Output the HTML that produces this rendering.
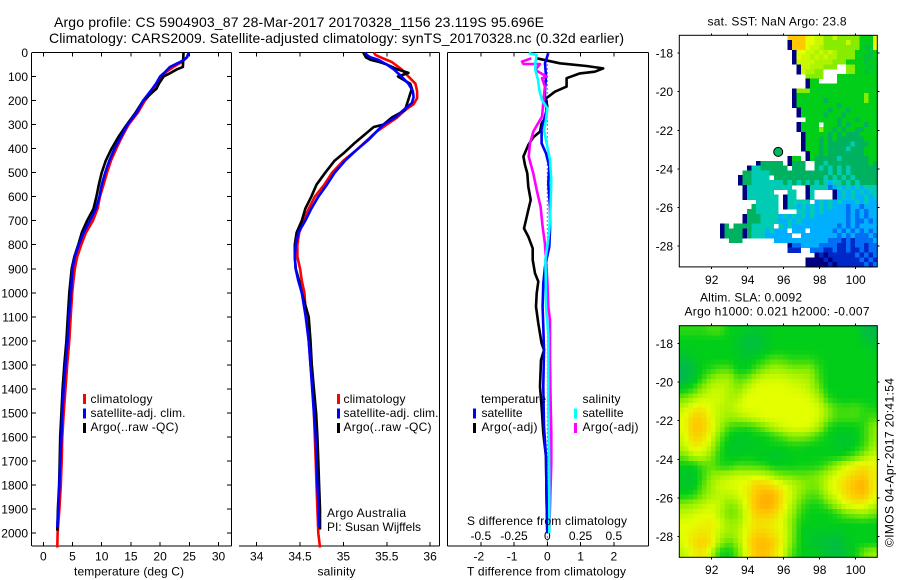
<!DOCTYPE html>
<html>
<head>
<meta charset="utf-8">
<title>Argo profile 5904903_87</title>
<style>
html,body{margin:0;padding:0;background:#fff;}
svg{display:block;font-family:"Liberation Sans",sans-serif;font-size:12px;fill:#000;}
text{fill:#000;}
</style>
</head>
<body>
<svg id="chart" xmlns="http://www.w3.org/2000/svg" width="900" height="580" viewBox="0 0 900 580">
<rect x="0" y="0" width="900" height="580" fill="#ffffff"/>
<text x="54" y="27" font-size="14" textLength="490" lengthAdjust="spacing">Argo profile: CS 5904903_87 28-Mar-2017 20170328_1156 23.119S 95.696E</text>
<text x="49" y="43" font-size="14" textLength="575" lengthAdjust="spacing">Climatology: CARS2009. Satellite-adjusted climatology: synTS_20170328.nc (0.32d earlier)</text>

<g id="p1"></g>
<g id="p2"></g>
<g id="p3"></g>
<g id="m1"></g>
<g id="m2"></g>

<text x="74" y="575.5" textLength="110" lengthAdjust="spacing">temperature (deg C)</text>
<text x="317.5" y="575.5" textLength="38" lengthAdjust="spacing">salinity</text>
<text x="467" y="575.5" textLength="159" lengthAdjust="spacing">T difference from climatology</text>
<text x="467" y="525" textLength="160" lengthAdjust="spacing">S difference from climatology</text>

<g>
<rect x="83" y="394" width="3" height="10" fill="#ff0000"/>
<text x="90.5" y="403" textLength="62" lengthAdjust="spacing">climatology</text>
<rect x="83" y="408.5" width="3" height="10" fill="#0000ff"/>
<text x="90.5" y="417" textLength="95" lengthAdjust="spacing">satellite-adj. clim.</text>
<rect x="83" y="423" width="3" height="10" fill="#000000"/>
<text x="90.5" y="431" textLength="88" lengthAdjust="spacing">Argo(..raw -QC)</text>
</g>
<g>
<rect x="337" y="394" width="3" height="10" fill="#ff0000"/>
<text x="343.5" y="403" textLength="62" lengthAdjust="spacing">climatology</text>
<rect x="337" y="408.5" width="3" height="10" fill="#0000ff"/>
<text x="343.5" y="417" textLength="95" lengthAdjust="spacing">satellite-adj. clim.</text>
<rect x="337" y="423" width="3" height="10" fill="#000000"/>
<text x="343.5" y="431" textLength="88" lengthAdjust="spacing">Argo(..raw -QC)</text>
</g>
<text x="327" y="517" textLength="79" lengthAdjust="spacing">Argo Australia</text>
<text x="327" y="531" textLength="94" lengthAdjust="spacing">PI: Susan Wijffels</text>

<g>
<text x="481" y="403" textLength="65" lengthAdjust="spacing">temperature</text>
<rect x="473" y="408.5" width="3" height="10" fill="#0000ff"/>
<text x="481.5" y="417" textLength="41" lengthAdjust="spacing">satellite</text>
<rect x="473" y="423" width="3" height="10" fill="#000000"/>
<text x="481.5" y="431" textLength="56" lengthAdjust="spacing">Argo(-adj)</text>
<text x="582.5" y="403" textLength="38" lengthAdjust="spacing">salinity</text>
<rect x="574" y="408.5" width="3" height="10" fill="#00ffff"/>
<text x="582.5" y="417" textLength="41" lengthAdjust="spacing">satellite</text>
<rect x="574" y="423" width="3" height="10" fill="#ff00ff"/>
<text x="582.5" y="431" textLength="56" lengthAdjust="spacing">Argo(-adj)</text>
</g>

<text x="707.5" y="25.5" textLength="139" lengthAdjust="spacing">sat. SST: NaN  Argo: 23.8</text>
<text x="700" y="301.5" textLength="102" lengthAdjust="spacing">Altim. SLA: 0.0092</text>
<text x="684.5" y="315.5" textLength="185" lengthAdjust="spacing">Argo h1000: 0.021 h2000: -0.007</text>
<text transform="translate(893.5,547) rotate(-90)" x="0" y="0" textLength="169" lengthAdjust="spacing">©IMOS 04-Apr-2017 20:41:54</text>
</svg>

<script>
// ---- depth ticks / axis tick values ----
var depthTicks = [0,100,200,300,400,500,600,700,800,900,1000,1100,1200,1300,1400,1500,1600,1700,1800,1900,2000];
var tempTicks = [0,5,10,15,20,25,30];
var salTicks = [34,34.5,35,35.5,36];
var salTickLabels = ['34','34.5','35','35.5','36'];
var diffTTicks = [-2,-1,0,1,2];
var diffSTicks = [-0.5,-0.25,0,0.25,0.5];
var diffSLabels = ['-0.5','-0.25','0','0.25','0.5'];
var lonTicks = [92,94,96,98,100];
var latTicks = [-18,-20,-22,-24,-26,-28];

// ---- temperature profiles ----
var climTempDepth = [0,20,40,60,80,100,150,200,250,300,350,400,450,500,550,600,650,700,750,800,850,900,950,1000,1100,1200,1300,1400,1500,1600,1700,1800,1900,2000,2060];
var climTemp = [24.9,24.6,23.7,22.3,21.1,20.3,19.1,17.4,16.2,14.6,13.5,12.5,11.6,10.9,10.3,9.7,9.3,8.5,7.3,6.5,5.8,5.4,5.15,4.95,4.7,4.45,4.1,3.8,3.5,3.25,3.15,3,2.75,2.45,2.4];
var satTempDepth = [0,20,30,40,60,80,100,130,150,200,250,300,350,400,450,500,550,600,650,700,750,800,850,900,950,1000,1100,1200,1300,1400,1500,1600,1700,1800,1900,1975];
var satTemp = [24.9,24.6,24.1,23.4,21.7,20.9,20,19.3,18.7,17.1,16,14.4,13.3,12.2,11.3,10.6,10,9.6,9,8,6.9,6.1,5.4,5,4.86,4.75,4.4,4.17,3.8,3.5,3.25,3.1,2.9,2.75,2.57,2.4];
var argoTempDepth = [0,60,70,90,100,130,150,200,250,300,350,400,450,500,550,600,650,700,750,800,850,900,1000,1100,1200,1300,1400,1500,1600,1700,1800,1900,1990];
var argoTemp = [24,23.9,22.9,21.4,20.6,19.8,19.4,17.1,15.8,14.3,12.9,11.7,10.7,10,9.5,9.1,8.6,7.5,6.6,6,5.3,4.86,4.46,4.2,3.95,3.6,3.3,3.1,2.9,2.8,2.7,2.5,2.4];

// ---- salinity profiles ----
var climSalDepth = [0,10,25,40,70,100,130,160,190,215,240,270,300,330,360,400,450,500,550,600,650,700,750,800,850,900,950,1000,1100,1200,1300,1400,1500,1600,1700,1800,1900,2000,2060];
var climSal = [35.35,35.37,35.46,35.56,35.67,35.75,35.83,35.85,35.85,35.81,35.71,35.62,35.5,35.38,35.29,35.17,35,34.87,34.78,34.67,34.6,34.54,34.49,34.47,34.47,34.5,34.52,34.55,34.57,34.6,34.62,34.65,34.66,34.67,34.68,34.69,34.7,34.71,34.73];
var satSalDepth = [0,10,20,30,50,70,100,130,160,185,210,240,270,300,330,360,400,450,500,550,600,650,700,750,800,850,900,950,1000,1100,1200,1300,1400,1500,1600,1700,1800,1900,1975];
var satSal = [35.25,35.27,35.31,35.4,35.5,35.58,35.67,35.75,35.8,35.81,35.79,35.69,35.6,35.46,35.38,35.3,35.17,35.02,34.9,34.81,34.71,34.63,34.56,34.48,34.45,34.44,34.45,34.48,34.52,34.565,34.6,34.62,34.64,34.66,34.68,34.69,34.7,34.715,34.72];
var argoSalDepth = [0,20,30,40,50,70,85,100,130,150,240,270,300,310,340,380,420,450,500,550,600,650,700,750,800,850,900,950,1000,1100,1200,1300,1400,1500,1600,1700,1800,1900,1985];
var argoSal = [35.23,35.26,35.31,35.42,35.5,35.62,35.75,35.63,35.77,35.79,35.71,35.56,35.46,35.35,35.25,35.12,35,34.9,34.79,34.69,34.63,34.56,34.52,34.46,34.44,34.44,34.45,34.49,34.52,34.6,34.62,34.635,34.66,34.685,34.7,34.71,34.72,34.73,34.73];

// ---- difference profiles ----
var diffArgoTDepth = [24,45,56,66,80,87,107,142,163,191,225,267,295,329,353,385,433,468,503,558,614,655,697,732,766,815,863,919,953,1002,1058,1127,1210,1238,1280,1390,1474,1585,1682,1862,2000];
var diffArgoT = [-0.32,0.38,1.18,1.68,1.43,0.98,0.58,0.58,0.23,-0.04,0,-0.04,-0.17,-0.22,-0.42,-0.57,-0.72,-0.67,-0.6,-0.57,-0.5,-0.57,-0.64,-0.7,-0.57,-0.44,-0.44,-0.37,-0.27,-0.32,-0.34,-0.27,-0.17,-0.1,-0.19,-0.22,-0.17,-0.12,-0.04,-0.02,0];
var diffSatTDepth = [3,45,100,156,198,239,281,322,378,420,475,545,642,739,808,891,961,1058,1141,1238,1390,1557,1682,1862,2000];
var diffSatT = [0.03,-0.07,-0.04,-0.07,-0.07,-0.02,-0.1,-0.17,-0.17,-0.04,0.06,0.03,0.08,0.08,0.06,-0.07,-0.12,-0.14,-0.12,-0.1,-0.12,-0.1,-0.04,-0.02,0];
var diffArgoSDepth = [24,38,48,48,73,100,107,142,177,267,295,329,378,433,503,572,642,725,794,863,946,1058,1113,1280,1446,1585,1710,1985];
var diffArgoS = [-0.12,-0.19,-0.18,-0.055,-0.09,-0.005,-0.04,-0.018,-0.025,-0.04,-0.07,-0.105,-0.13,-0.14,-0.105,-0.08,-0.05,-0.035,-0.018,-0.01,0,0.0075,0.02,0.02,0.025,0.03,0.03,0.015];
var diffSatSDepth = [3,10,45,73,114,156,198,232,281,322,392,447,531,642,739,808,863,919,1058,1169,1446,1682,1862,2000];
var diffSatS = [-0.14,-0.08,-0.09,-0.09,-0.07,-0.06,-0.04,0,-0.01,-0.025,0,0.02,0.03,0.025,0.015,0,-0.015,-0.012,-0.01,0.0075,0.0075,0.0125,0.015,0.015];

// ---- map values: colour-scale level per grid cell, _ = no data ----
var _ = null;
var argoLon = 95.696;
var argoLat = -23.119;
var sstLevels = [
[_,_,_,_,_,_,_,_,_,_,_,_,_,_,_,_,_,_,_,_,_,_,_,_,9,9,9,9,8,8,7.7,7.7,7,7,7.7,7,7,7,7,7,6,6,6,8],
[_,_,_,_,_,_,_,_,_,_,_,_,_,_,_,_,_,_,_,_,_,_,_,_,0,9,9,9,8,8,7.7,7.7,7,7,7,7,7,7.7,7,7,6,6,6,8],
[_,_,_,_,_,_,_,_,_,_,_,_,_,_,_,_,_,_,_,_,_,_,_,_,0,9,9,9,8,7.7,7.7,7.4,7,7,7,7,7,7,7,7,6,5.5,5.5,8],
[_,_,_,_,_,_,_,_,_,_,_,_,_,_,_,_,_,_,_,_,_,_,_,_,_,0,8,8,7.7,7.7,7.4,7.7,7.4,7.7,7.4,7,7,7,7,6,6,6,5.5,6],
[_,_,_,_,_,_,_,_,_,_,_,_,_,_,_,_,_,_,_,_,_,_,_,_,_,0,8,7.7,7.7,7.4,7.7,7.4,7.7,7.4,7.4,7,7,7,7,6,6,5.5,5.5,6],
[_,_,_,_,_,_,_,_,_,_,_,_,_,_,_,_,_,_,_,_,_,_,_,_,_,0,7.7,7.7,7.7,7.7,7.4,7.4,7.4,7.4,7,7,7,6,6,6,6,5.5,6,6],
[_,_,_,_,_,_,_,_,_,_,_,_,_,_,_,_,_,_,_,_,_,_,_,_,_,_,0,7.7,7.7,7.4,7.4,7.4,7,7,7,_,_,7,7,6,6,6,5.5,6],
[_,_,_,_,_,_,_,_,_,_,_,_,_,_,_,_,_,_,_,_,_,_,_,_,_,_,0,7.7,7.4,7.4,7,7,_,_,_,_,_,7,7,6,6,5.5,6,6],
[_,_,_,_,_,_,_,_,_,_,_,_,_,_,_,_,_,_,_,_,_,_,_,_,_,_,_,_,7,7,7,7,_,_,_,6,6,6,6,6,6,6,6,6],
[_,_,_,_,_,_,_,_,_,_,_,_,_,_,_,_,_,_,_,_,_,_,_,_,_,_,_,_,0,6,6,_,_,_,_,6,6,6,6,6,6,6,6,6],
[_,_,_,_,_,_,_,_,_,_,_,_,_,_,_,_,_,_,_,_,_,_,_,_,_,_,_,_,0,6,6,6,6,6,6,6,6,6,6,6,6,6,6,6],
[_,_,_,_,_,_,_,_,_,_,_,_,_,_,_,_,_,_,_,_,_,_,_,_,_,0,7,7,7,6,6,6,6,6,6,6,6,6,6,6,6,6,6,6],
[_,_,_,_,_,_,_,_,_,_,_,_,_,_,_,_,_,_,_,_,_,_,_,_,_,0,6,6,6,6,6,6,6,6,6,6,6,6,6,6,6,7,6,6],
[_,_,_,_,_,_,_,_,_,_,_,_,_,_,_,_,_,_,_,_,_,_,_,_,_,0,6,6,6,6,6,6,5,6,6,6,6,6,6,6,6,7,6,6],
[_,_,_,_,_,_,_,_,_,_,_,_,_,_,_,_,_,_,_,_,_,_,_,_,_,0,6,6,6,6,6,6,6,6,6,5,6,6,6,6,6,6,6,6],
[_,_,_,_,_,_,_,_,_,_,_,_,_,_,_,_,_,_,_,_,_,_,_,_,_,_,0,6,6,6,6,6,6,5,6,6,6,5,6,6,6,6,6,6],
[_,_,_,_,_,_,_,_,_,_,_,_,_,_,_,_,_,_,_,_,_,_,_,_,_,_,0,6,6,6,6,6,5,6,6,6,5,6,6,6,6,6,6,6],
[_,_,_,_,_,_,_,_,_,_,_,_,_,_,_,_,_,_,_,_,_,_,_,_,_,_,_,_,6,6,6,6,6,6,6,5,6,6,6,5,6,6,6,6],
[_,_,_,_,_,_,_,_,_,_,_,_,_,_,_,_,_,_,_,_,_,_,_,_,_,_,0,6,6,6,6,_,6,6,6,5,6,5,6,6,6,5,6,6],
[_,_,_,_,_,_,_,_,_,_,_,_,_,_,_,_,_,_,_,_,_,_,_,_,_,_,0,6,6,6,6,7,6,6,5,6,5,6,6,5,5,6,6,6],
[_,_,_,_,_,_,_,_,_,_,_,_,_,_,_,_,_,_,_,_,_,_,_,_,_,_,_,0,6,6,6,6,6,5,6,5,6,5,5,5,6,6,6,6],
[_,_,_,_,_,_,_,_,_,_,_,_,_,_,_,_,_,_,_,_,_,_,_,_,_,_,_,0,6,6,6,5,6,5,6,5,5,5,5,5,5,6,6,6],
[_,_,_,_,_,_,_,_,_,_,_,_,_,_,_,_,_,_,_,_,_,_,_,_,_,_,_,0,6,6,6,5,6,5,5,5,5,5,4,5,5,5,6,6],
[_,_,_,_,_,_,_,_,_,_,_,_,_,_,_,_,_,_,_,_,_,_,_,_,_,_,_,0,6,6,6,5,6,5,5,5,5,4,5,5,5,6,6,6],
[_,_,_,_,_,_,_,_,_,_,_,_,_,_,_,_,_,_,_,_,_,_,_,_,_,_,_,_,0,6,6,5,6,5,5,5,5,5,5,5,5,6,6,6],
[_,_,_,_,_,_,_,_,_,_,_,_,_,_,_,_,_,_,_,_,_,_,_,_,0,6,6,_,0,6,5,5,5,5,5,4,5,5,5,5,5,5,6,6],
[_,_,_,_,_,_,_,_,_,_,_,_,_,_,_,_,_,0,5,5,5,5,5,_,0,5,5,5,_,_,5,5,4,5,5,5,5,5,5,5,5,5,6,5],
[_,_,_,_,_,_,_,_,_,_,_,_,_,_,_,0,4,4,5,5,5,5,5,5,_,5,5,5,_,_,5,4,5,4,5,4,5,4,5,5,5,5,5,5],
[_,_,_,_,_,_,_,_,_,_,_,_,_,_,5,5,4,4,4,4,5,5,5,5,5,5,5,5,5,5,5,5,5,4,5,4,5,4,5,5,5,5,5,5],
[_,_,_,_,_,_,_,_,_,_,_,_,_,0,5,5,4,4,4,4,_,5,5,5,5,5,5,5,5,5,5,5,4,5,4,5,4,5,4,5,5,5,5,5],
[_,_,_,_,_,_,_,_,_,_,_,_,_,0,5,5,4,4,4,4,4,4,4,5,4,5,4,5,4,5,4,5,4,3,4,4,5,4,5,4,5,5,5,5],
[_,_,_,_,_,_,_,_,_,_,_,_,_,_,0,4,4,4,4,4,4,4,4,4,4,_,_,_,0,4,4,4,4,2,3,4,3,4,3,4,3,4,4,4],
[_,_,_,_,_,_,_,_,_,_,_,_,_,_,0,4,4,4,4,4,4,_,_,_,4,4,_,_,0,4,_,_,_,_,0,3,4,3,4,3,4,3,4,4],
[_,_,_,_,_,_,_,_,_,_,_,_,_,_,0,4,4,4,4,4,4,4,_,0,4,4,_,_,0,4,_,_,_,_,0,3,4,3,4,3,3,4,3,4],
[_,_,_,_,_,_,_,_,_,_,_,_,_,_,_,_,_,4,4,4,4,4,_,0,4,4,4,4,4,_,3,4,3,4,3,4,3,3,3,4,3,4,3,3],
[_,_,_,_,_,_,_,_,_,_,_,_,_,_,_,_,5,4,4,4,4,4,_,0,4,4,3,4,3,4,3,4,3,4,3,3,3,2,3,3,2,3,3,3],
[_,_,_,_,_,_,_,_,_,_,_,_,_,_,_,5,5,4,4,4,4,4,_,_,_,_,4,4,3,4,3,4,3,3,3,3,3,2,3,2,3,2,3,3],
[_,_,_,_,_,_,_,_,_,_,_,_,_,_,0,5,5,5,4,4,4,4,3,4,3,4,3,4,3,4,3,3,3,3,3,3,3,2,3,2,3,2,3,3],
[_,_,_,_,_,_,_,_,_,_,_,_,_,_,0,5,5,5,4,4,4,4,3,3,4,3,4,3,3,3,3,3,3,3,3,3,3,2,3,2,2,3,2,3],
[_,_,_,_,_,_,_,_,_,0,5,_,5,5,5,5,4,4,4,4,4,_,4,3,4,3,3,3,3,3,3,3,3,3,3,2,3,2,3,2,3,3,3,3],
[_,_,_,_,_,_,_,_,_,0,5,5,5,5,0,5,4,4,4,3,4,3,3,3,_,3,3,3,_,3,3,3,3,3,2,3,2,3,2,3,2,3,2,3],
[_,_,_,_,_,_,_,_,_,0,5,5,5,5,0,5,4,4,4,3,3,3,3,3,3,_,_,3,3,3,3,3,3,3,3,2,3,2,3,2,2,2,3,2],
[_,_,_,_,_,_,_,_,_,_,_,5,5,5,_,_,_,_,_,_,_,3,3,3,3,3,3,3,3,3,3,3,3,2,2,2,1,2,1,2,2,2,2,3],
[_,_,_,_,_,_,_,_,_,_,_,_,_,_,_,_,_,_,_,_,_,_,_,_,0,2,2,3,3,3,3,2,2,2,2,1,1,2,1,2,2,1,2,2],
[_,_,_,_,_,_,_,_,_,_,_,_,_,_,_,_,_,_,_,_,_,_,_,_,1,1,1,_,_,2,2,2,1,1,2,1,1,2,1,1,2,1,2,2],
[_,_,_,_,_,_,_,_,_,_,_,_,_,_,_,_,_,_,_,_,_,_,_,_,_,_,_,_,_,_,0,1,0,1,1,1,1,1,1,2,1,2,1,2],
[_,_,_,_,_,_,_,_,_,_,_,_,_,_,_,_,_,_,_,_,_,_,_,_,_,_,_,_,0,0,0,0,1,0,1,1,1,1,1,1,2,1,2,1],
[_,_,_,_,_,_,_,_,_,_,_,_,_,_,_,_,_,_,_,_,_,_,_,_,_,_,_,_,0,0,0,0,0,1,0,1,1,1,1,1,1,2,1,2]
];
var slaLevels = [
[6.3,6.3,6.3,6.5,6.5,6,6,5.8,5.7,5.8,6,6,6,6,6,6,6,6,6,6,5.5,5.3],
[6,6,6,6,6,6,5.8,5.5,5.5,5.7,6,6,6,6,6,6,6,6,6,6,5.7,5.5],
[5.8,6,6,6,6,6,5.8,5.5,5.5,5.8,6,6,6,6,6,6,6,6,6,6,6,5.8],
[5.5,5.8,6,6,6,6,5.9,5.8,6,6.3,6.6,6.5,6.3,6.3,6.3,6.1,6,6,6,6,6,6],
[5.2,5.5,6,6.3,6.6,6.6,6,6,6.5,7,7.3,7.2,7,7,7,6.3,6,6,6,6,6,6],
[5.3,5.7,6.3,7,7.3,7.3,6.6,6.8,7.5,7.8,7.8,7.8,7.6,7.5,7.3,6.5,6,6,6,6,6,6],
[5.9,6.3,7,7.6,7.7,7.4,7,7.6,8,8,8,8,7.9,7.8,7.5,6.8,6,6,6,6,6,6],
[6.8,7.3,7.7,7.8,7.8,7.4,7.5,8,8,8,8,8,8,8,7.9,7.3,6.3,6,6,6,6,6],
[7.6,8.2,8.3,7.9,7.6,7.4,7.8,8,8,8,8,8,8,8,8,7.8,7,6.5,6.4,6.5,6.3,6.1],
[8,8.8,8.9,8,7.5,7.2,7.3,7.6,7.8,8,8,8,8,8,8,7.8,7,6.5,6.5,6.5,6.3,6.5],
[8,9,9,8.2,7.3,6.5,6.3,6.3,6.5,7,7.5,7.8,8,8,7.9,7.3,6.3,6,6,6,6.3,7],
[7.8,8.8,8.7,7.9,6.8,6,5.8,5.8,6,6,6.3,6.6,7,7,6.8,6.3,6,5.8,5.7,5.9,6.3,7],
[7.6,8.3,8.2,7.5,6.4,5.8,5.7,5.8,5.9,6,6,6,6.1,6.1,6,6,6,5.8,5.7,6,6.4,7.2],
[6.8,7.5,7.6,7,6.2,5.9,5.9,6,5.9,5.8,5.7,5.8,6,6,6,6,6,6,6.2,6.6,7.2,7.7],
[6,6,6.5,6.7,6.3,6.2,6.5,6.5,6.4,6.3,6,6,6,6.1,6.1,6.2,6.6,7.2,7.8,8.2,8.5,8.2],
[5.8,5.7,6.3,7,7.3,7.5,7.7,7.7,7.8,7.6,7.2,6.9,6.8,6.7,6.8,7,7.5,8,8.4,8.8,9,8.3],
[5.8,5.8,6.5,7.3,7.7,7.9,8,8.2,8.8,8.8,8.5,8,7.6,7.2,6.9,7,7.8,8.2,8.7,9.2,9.5,8.3],
[6,6.2,6.8,7.3,7.6,7.6,7.8,8.3,9,9.5,9.3,8.4,7.7,7,6.6,6.7,7.5,8,8.6,9,9.2,8.2],
[7,7.2,7.5,7.8,7.6,7,7.3,8.2,9.2,9.6,9.3,8.3,7.5,6.6,6.2,6.2,6.7,7.4,8,8.3,8.2,7.7],
[7.6,7.8,7.9,8,7.5,6.8,7,8,8.9,9,8.8,8,7.2,6.3,6,6,6,6.3,6.8,7,7.2,6.8],
[8,8,8.2,8.3,7.8,7.2,7.3,8,8.5,8.5,8.3,7.9,7,6.1,6,6,6,6,6,6,6,6],
[8,8.3,8.5,8.3,7.6,7.2,7.5,8.2,8.8,8.8,8.5,8,7,6,5.8,5.8,5.8,5.7,5.9,6,6,6],
[7.9,8.5,8.9,8.4,7.2,6.6,7.2,8.4,9.2,9.3,8.9,8,6.9,6,5.8,5.6,5.5,5.4,5.7,6,6,6],
[7.6,8.2,8.5,7.6,6.2,6,6.8,8.2,9,9.2,8.6,7.8,6.6,6,5.9,5.8,5.6,5.4,5.7,6,6.8,7.2]
];

// ---- colour scale for the map levels ----
var paletteStops = [[0,0,128],[0,40,200],[0,110,245],[0,176,255],[0,204,180],[0,178,96],[0,206,24],[135,236,0],[228,255,0],[255,200,0],[255,150,0]];

// ---- geometry and axis functions ----
var NS = 'http://www.w3.org/2000/svg';
var P_TOP = 52.5, P_BOT = 546;
var LINE_W = 2.6;
function depthY(d){ return 52.5 + d * 0.2403; }
function tempX(t){ return 43.3 + t * 5.84; }
function salX(s){ return 256.7 + (s - 34) * 86.7; }
function diffTX(t){ return 547.3 + t * 33.25; }
function diffSX(s){ return diffTX(s * 4); }
function lonX(l){ return 679.3 + (l - 90.2) * 18; }
function latY(lat, top){ return top + (-17.08 - lat) * 19.3; }
function levelColor(v){
  var i = Math.max(0, Math.min(paletteStops.length - 2, Math.floor(v)));
  var f = Math.max(0, Math.min(1, v - i));
  var a = paletteStops[i], b = paletteStops[i + 1];
  return 'rgb(' + Math.round(a[0] + (b[0] - a[0]) * f) + ',' + Math.round(a[1] + (b[1] - a[1]) * f) + ',' + Math.round(a[2] + (b[2] - a[2]) * f) + ')';
}
function mk(parent, tag, props){
  var el = document.createElementNS(NS, tag);
  for (var k in props) el.setAttribute(k, props[k]);
  parent.appendChild(el);
  return el;
}
function seg(parent, x1, y1, x2, y2, name){
  var el = mk(parent, 'line', {x1:x1, y1:y1, x2:x2, y2:y2, stroke:'#000', 'stroke-width':1, 'shape-rendering':'crispEdges'});
  
  
  return el;
}
function label(parent, x, y, str, anchor, name){
  var el = mk(parent, 'text', {x:x, y:y, 'text-anchor':anchor});
  el.textContent = str;
  
  
  return el;
}
function profile(parent, xs, depths, xFn, color, width, name){
  var d = '';
  for (var i = 0; i < xs.length; i++) {
    d += (i ? 'L' : 'M') + xFn(xs[i]).toFixed(1) + ' ' + depthY(depths[i]).toFixed(1);
  }
  var el = mk(parent, 'path', {d:d, fill:'none', stroke:color, 'stroke-width':width, 'stroke-linejoin':'round'});
  
  
  return el;
}

// ---- panel 1: temperature ----
var p1 = document.getElementById('p1');
seg(p1, 32, P_TOP, 231.5, P_TOP, 'temperature-top-border');
seg(p1, 32, P_BOT, 231.5, P_BOT, 'temperature-bottom-border');
seg(p1, 31.5, P_TOP, 31.5, P_BOT, 'temperature-left-border');
seg(p1, 231.5, P_TOP, 231.5, P_BOT, 'temperature-right-border');
depthTicks.forEach(function(d){
  var y = depthY(d);
  seg(p1, 32, y, 36, y, 'depth-tick-left');
  seg(p1, 227, y, 231, y, 'depth-tick-right');
  label(p1, 28, y + 4.5, String(d), 'end', 'depth-tick-label');
});
tempTicks.forEach(function(t){
  var x = tempX(t);
  seg(p1, x, P_TOP, x, P_TOP + 4, 'temperature-tick-top');
  seg(p1, x, P_BOT - 4, x, P_BOT, 'temperature-tick-bottom');
  label(p1, x, 560.5, String(t), 'middle', 'temperature-tick-label');
});
profile(p1, climTemp, climTempDepth, tempX, '#ff0000', LINE_W, 'temperature-climatology-line');
profile(p1, argoTemp, argoTempDepth, tempX, '#000000', LINE_W, 'temperature-argo-line');
profile(p1, satTemp, satTempDepth, tempX, '#0000ff', LINE_W, 'temperature-satellite-line');

// ---- panel 2: salinity ----
var p2 = document.getElementById('p2');
seg(p2, 239, P_TOP, 439.5, P_TOP, 'salinity-top-border');
seg(p2, 239, P_BOT, 439.5, P_BOT, 'salinity-bottom-border');
seg(p2, 439.5, P_TOP, 439.5, P_BOT, 'salinity-right-border');
salTicks.forEach(function(s, i){
  var x = salX(s);
  seg(p2, x, P_TOP, x, P_TOP + 4, 'salinity-tick-top');
  seg(p2, x, P_BOT - 4, x, P_BOT, 'salinity-tick-bottom');
  label(p2, x, 560.5, salTickLabels[i], 'middle', 'salinity-tick-label');
});
profile(p2, climSal, climSalDepth, salX, '#ff0000', LINE_W, 'salinity-climatology-line');
profile(p2, argoSal, argoSalDepth, salX, '#000000', LINE_W, 'salinity-argo-line');
profile(p2, satSal, satSalDepth, salX, '#0000ff', LINE_W, 'salinity-satellite-line');

// ---- panel 3: differences ----
var p3 = document.getElementById('p3');
seg(p3, 447.5, P_TOP, 648.5, P_TOP, 'difference-top-border');
seg(p3, 447.5, P_BOT, 648.5, P_BOT, 'difference-bottom-border');
seg(p3, 447.5, P_TOP, 447.5, P_BOT, 'difference-left-border');
seg(p3, 648.5, P_TOP, 648.5, P_BOT, 'difference-right-border');
diffTTicks.forEach(function(t){
  var x = diffTX(t);
  seg(p3, x, P_TOP, x, P_TOP + 4, 'difference-tick-top');
  seg(p3, x, P_BOT - 4, x, P_BOT, 'difference-tick-bottom');
  label(p3, x - (t < 0 ? 2 : 0), 560.5, String(t), 'middle', 'difference-t-tick-label');
});
diffSTicks.forEach(function(s, i){
  label(p3, diffSX(s), 540, diffSLabels[i], 'middle', 'difference-s-tick-label');
});
var zeroLine = mk(p3, 'line', {x1:diffTX(0), y1:P_TOP, x2:diffTX(0), y2:P_BOT, stroke:'#000', 'stroke-width':1, 'stroke-dasharray':'1 3'});


profile(p3, diffArgoT, diffArgoTDepth, diffTX, '#000000', LINE_W, 'difference-t-argo-line');
profile(p3, diffSatT, diffSatTDepth, diffTX, '#0000ff', LINE_W, 'difference-t-satellite-line');
profile(p3, diffArgoS, diffArgoSDepth, diffSX, '#ff00ff', LINE_W, 'difference-s-argo-line');
profile(p3, diffSatS, diffSatSDepth, diffSX, '#00ffff', LINE_W, 'difference-s-satellite-line');

// ---- maps ----
function mapFrame(g, top, prefix, labelY){
  var bottom = top + 12 * 19.3;
  var left = lonX(90.2), right = lonX(101.2);
  var box = mk(g, 'rect', {x:left, y:top, width:right - left, height:bottom - top, fill:'none', stroke:'#000', 'stroke-width':1});
  
  
  lonTicks.forEach(function(l){
    var x = lonX(l);
    seg(g, x, top - 2, x, top, prefix + '-lon-tick-top');
    seg(g, x, bottom, x, bottom + 2, prefix + '-lon-tick-bottom');
    label(g, x, labelY, String(l), 'middle', prefix + '-lon-tick-label');
  });
  latTicks.forEach(function(lat){
    var y = latY(lat, top);
    seg(g, left - 2, y, left, y, prefix + '-lat-tick-left');
    seg(g, right, y, right + 2, y, prefix + '-lat-tick-right');
    label(g, 673, y + 4.5, String(lat), 'end', prefix + '-lat-tick-label');
  });
}

var m1 = document.getElementById('m1');
var M1_TOP = 35.3;
sstLevels.forEach(function(row, r){
  row.forEach(function(v, c){
    if (v === null) return;
    var x0 = lonX(90.2 + c * 0.25), x1 = lonX(90.2 + (c + 1) * 0.25);
    var y0 = latY(-17.08 - r * 0.25, M1_TOP), y1 = latY(-17.08 - (r + 1) * 0.25, M1_TOP);
    var cell = mk(m1, 'rect', {x:x0.toFixed(2), y:y0.toFixed(2), width:(x1 - x0 + 0.4).toFixed(2), height:(y1 - y0 + 0.4).toFixed(2), fill:levelColor(v), 'shape-rendering':'crispEdges'});
    
    
  });
});
mapFrame(m1, M1_TOP, 'sst', 284);
var marker = mk(m1, 'circle', {cx:lonX(argoLon).toFixed(1), cy:latY(argoLat, M1_TOP).toFixed(1), r:4.5, fill:'#00b860', stroke:'#000', 'stroke-width':1});



var m2 = document.getElementById('m2');
var M2_TOP = 325.7;
function slaAt(rf, cf){
  var r0 = Math.min(slaLevels.length - 1, Math.floor(rf)), r1 = Math.min(slaLevels.length - 1, r0 + 1);
  var c0 = Math.min(slaLevels[0].length - 1, Math.floor(cf)), c1 = Math.min(slaLevels[0].length - 1, c0 + 1);
  var fr = rf - r0, fc = cf - c0;
  return (slaLevels[r0][c0] * (1 - fc) + slaLevels[r0][c1] * fc) * (1 - fr) + (slaLevels[r1][c0] * (1 - fc) + slaLevels[r1][c1] * fc) * fr;
}
for (var sr = 0; sr < slaLevels.length * 2; sr++) {
  for (var sc = 0; sc < slaLevels[0].length * 2; sc++) {
    var v = slaAt(Math.max(0, (sr - 0.5) / 2), Math.max(0, (sc - 0.5) / 2));
    var sx0 = lonX(90.2 + sc * 0.25), sx1 = lonX(90.2 + (sc + 1) * 0.25);
    var sy0 = latY(-17.08 - sr * 0.25, M2_TOP), sy1 = latY(-17.08 - (sr + 1) * 0.25, M2_TOP);
    var slaCell = mk(m2, 'rect', {x:sx0.toFixed(2), y:sy0.toFixed(2), width:(sx1 - sx0 + 0.4).toFixed(2), height:(sy1 - sy0 + 0.4).toFixed(2), fill:levelColor(v), 'shape-rendering':'crispEdges'});
    
    
  }
}
mapFrame(m2, M2_TOP, 'sla', 574);
</script>
</body>
</html>
